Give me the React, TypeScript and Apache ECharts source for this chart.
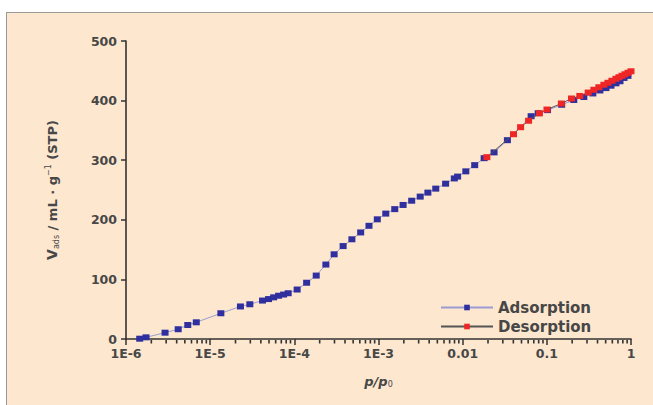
import React, { useEffect, useRef } from "react";
import * as echarts from "echarts";

// Adsorption branch: relative pressure p/p0 and adsorbed volume (mL/g STP)
const adsP = [
  1.455e-6, 1.73e-6, 2.91e-6, 4.17e-6, 5.42e-6, 6.84e-6, 1.34e-5, 2.29e-5, 2.96e-5, 4.19e-5,
  4.94e-5, 5.68e-5, 6.5e-5, 7.46e-5, 8.45e-5, 1.08e-4, 1.4e-4, 1.82e-4, 2.37e-4, 2.97e-4,
  3.8e-4, 4.83e-4, 6.14e-4, 7.71e-4, 9.68e-4, 1.22e-3, 1.56e-3, 1.96e-3, 2.48e-3, 3.13e-3,
  3.86e-3, 4.79e-3, 6.27e-3, 7.96e-3, 8.71e-3, 1.09e-2, 1.39e-2, 1.8e-2, 2.36e-2, 3.4e-2,
  6.51e-2, 7.89e-2, 0.102, 0.15, 0.209, 0.275, 0.352, 0.427, 0.504, 0.578,
  0.663, 0.74, 0.826, 0.921,
];
const adsV = [
  0.5, 2.8, 10.6, 16.4, 23.5, 28, 43.2, 54.6, 58.3, 64.5,
  67, 69.9, 72.6, 74.6, 76.8, 83, 94.4, 106.4, 124.9, 142.1,
  155.9, 167.3, 178.8, 189.9, 200.8, 210.4, 217.9, 224.9, 232, 238.9,
  245.6, 252.3, 260.6, 269.4, 272.5, 281.3, 291.7, 303.4, 313.1, 333.6,
  373.8, 378.8, 384, 393, 401, 406, 412, 417, 421, 425,
  429, 432.5, 438, 441.5,
];

// Desorption branch (ordered from high to low pressure)
const desP = [
  1.0, 0.921, 0.848, 0.781, 0.719, 0.662, 0.593, 0.532, 0.476, 0.415,
  0.362, 0.31, 0.2465, 0.1963, 0.1487, 0.1004, 0.0817, 0.0607, 0.0488, 0.0402,
  0.0194,
];
const desV = [
  449.2, 446.7, 444.2, 441.7, 439.2, 436.6, 433.3, 429.9, 426.6, 422.4,
  418.2, 413.5, 407.8, 403.5, 395.1, 385, 378.8, 366.2, 355.4, 343.6,
  305.1,
];

const xTickLabels = ["1E-6", "1E-5", "1E-4", "1E-3", "0.01", "0.1", "1"];
const yMin = 0;
const yMax = 500;
const yStep = 100;
const xMinExp = -6;
const xMaxExp = 0;

const FONT = "DejaVu Sans";
const TXT = "#474747";

export default function App() {
  const ref = useRef<HTMLDivElement>(null);

  useEffect(() => {
    if (!ref.current) return;
    const chart = echarts.init(ref.current, undefined, { renderer: "svg" });

    const minorTicks: number[][] = [];
    for (let e = xMinExp; e < xMaxExp; e++) {
      for (let k = 2; k <= 9; k++) minorTicks.push([k * Math.pow(10, e), 0]);
    }

    chart.setOption({
      animation: false,
      backgroundColor: "transparent",
      grid: { left: 126, right: 22, top: 41, bottom: 66 },
      legend: {
        data: ["Adsorption", "Desorption"],
        orient: "vertical",
        left: 435,
        top: 295,
        itemWidth: 52,
        itemHeight: 7,
        itemGap: 4,
        textStyle: { fontFamily: FONT, fontSize: 15, color: TXT, fontWeight: "bold" },
      },
      xAxis: {
        type: "log",
        logBase: 10,
        min: Math.pow(10, xMinExp),
        max: Math.pow(10, xMaxExp),
        splitNumber: 6,
        name: "{i|p}{i|/p}{sub|0}",
        nameLocation: "middle",
        nameGap: 35,
        nameTextStyle: {
          rich: {
            i: { fontFamily: FONT, fontSize: 13, fontStyle: "italic", color: TXT, fontWeight: "bold" },
            sub: { fontFamily: FONT, fontSize: 8, color: TXT, verticalAlign: "bottom", padding: [6, 0, 0, 0] },
          },
        },
        axisLine: { lineStyle: { color: "#333", width: 1.6 } },
        axisTick: { inside: false, length: 6, lineStyle: { color: "#333", width: 1.5 } },
        axisLabel: {
          margin: 8,
          fontFamily: FONT,
          fontSize: 12.5,
          fontWeight: "bold",
          color: TXT,
          formatter: (v: number) => {
            const e = Math.round(Math.log10(v));
            return xTickLabels[e - xMinExp] ?? "";
          },
        },
        splitLine: { show: false },
      },
      yAxis: {
        type: "value",
        min: yMin,
        max: yMax,
        interval: yStep,
        name: "{i|V}{sub|ads}{n| / mL · g}{sup|−1}{n| (STP)}",
        nameLocation: "middle",
        nameGap: 66,
        nameRotate: 90,
        nameTextStyle: {
          rich: {
            i: { fontFamily: FONT, fontSize: 14, color: TXT, fontWeight: "bold" },
            n: { fontFamily: FONT, fontSize: 13, color: TXT, fontWeight: "bold" },
            sub: { fontFamily: FONT, fontSize: 8, color: TXT, verticalAlign: "bottom", padding: [8, 0, 0, 0] },
            sup: { fontFamily: FONT, fontSize: 8, color: TXT, verticalAlign: "top", padding: [0, 0, 8, 0] },
          },
        },
        axisLine: { show: true, lineStyle: { color: "#333", width: 1.6 } },
        axisTick: { show: true, inside: false, length: 5, lineStyle: { color: "#333", width: 1.5 } },
        axisLabel: { margin: 9, fontFamily: FONT, fontSize: 12.5, fontWeight: "bold", color: TXT },
        splitLine: { show: false },
      },
      series: [
        {
          name: "Adsorption",
          type: "line",
          data: adsP.map((p, i) => [p, adsV[i]]),
          symbol: "rect",
          symbolSize: [7, 6],
          itemStyle: { color: "#2f2f9e" },
          lineStyle: { color: "#9c9cd2", width: 1 },
          z: 3,
        },
        {
          name: "Desorption",
          type: "line",
          data: desP.map((p, i) => [p, desV[i]]),
          symbol: "rect",
          symbolSize: [7, 6],
          itemStyle: { color: "#ee2626" },
          lineStyle: { color: "#555", width: 1 },
          z: 4,
        },
        {
          type: "custom",
          silent: true,
          clip: false,
          data: minorTicks,
          renderItem: (_params: any, api: any) => {
            const pt = api.coord([api.value(0), 0]);
            return {
              type: "line",
              shape: { x1: pt[0], y1: pt[1] + 1, x2: pt[0], y2: pt[1] + 4.5 },
              style: { stroke: "#333", lineWidth: 1.6 },
            };
          },
          z: 5,
        },
      ],
    });

    return () => chart.dispose();
  }, []);

  return (
    <div style={{ position: "fixed", left: 0, top: 0, width: 653, height: 405, background: "#fff", overflow: "hidden" }}>
      <div
        style={{
          position: "absolute",
          left: 6,
          top: 12,
          width: 680,
          height: 420,
          background: "#fde7cf",
          borderTop: "1.5px solid #9a9a9a",
          borderLeft: "1.5px solid #9a9a9a",
        }}
      />
      <div ref={ref} style={{ position: "absolute", left: 0, top: 0, width: 653, height: 405 }} />
    </div>
  );
}
